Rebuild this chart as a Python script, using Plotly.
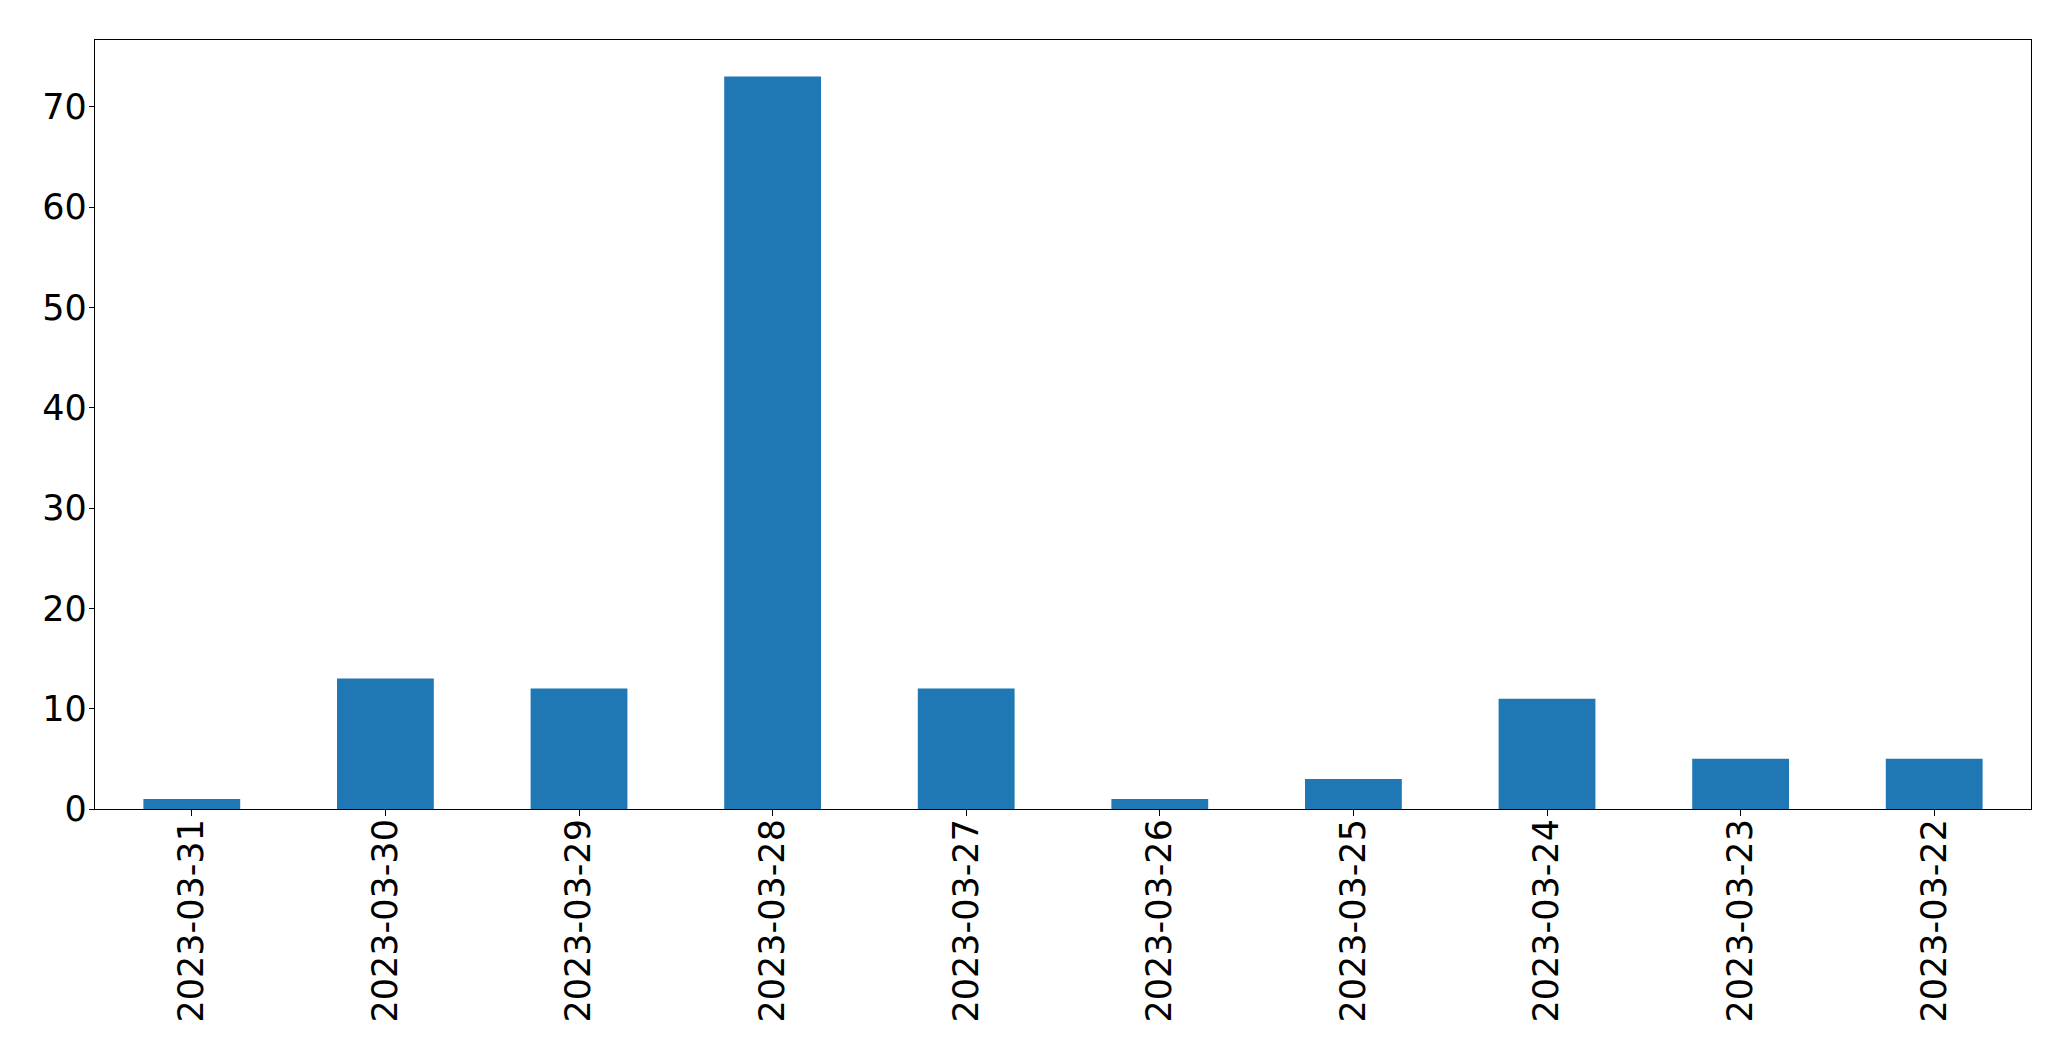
import plotly.graph_objects as go

dates = ["2023-03-31", "2023-03-30", "2023-03-29", "2023-03-28", "2023-03-27",
         "2023-03-26", "2023-03-25", "2023-03-24", "2023-03-23", "2023-03-22"]
counts = [1, 13, 12, 73, 12, 1, 3, 11, 5, 5]
y_ticks = [0, 10, 20, 30, 40, 50, 60, 70]

fig = go.Figure(go.Bar(x=dates, y=counts, marker_color="#1f77b4",
                       marker_line_width=0, width=0.5))

# page body has an 8px default margin, so the figure is offset by 8px
fig.update_layout(
    width=2055, height=1045,
    margin=dict(l=86.5, r=31.5, t=31.5, b=244, pad=0),
    paper_bgcolor="white", plot_bgcolor="white",
    font=dict(family="DejaVu Sans", size=35, color="black"),
    showlegend=False,
    bargap=0.5,
)
fig.update_xaxes(type="category", range=[-0.5, 9.5], tickangle=-90, automargin=False,
                 showline=True, mirror=True, linecolor="black", linewidth=1.2,
                 ticks="outside", ticklen=6, tickcolor="black", tickwidth=1.2,
                 ticklabelstandoff=-11,
                 showgrid=False, zeroline=False, tickfont=dict(size=35))
fig.update_yaxes(range=[0, 76.65], tickvals=y_ticks, automargin=False,
                 showline=True, mirror=True, linecolor="black", linewidth=1.2,
                 ticks="outside", ticklen=5, tickcolor="black", tickwidth=1.2,
                 ticklabelstandoff=-5,
                 showgrid=False, zeroline=False, tickfont=dict(size=35))

fig.write_html("out.html")
